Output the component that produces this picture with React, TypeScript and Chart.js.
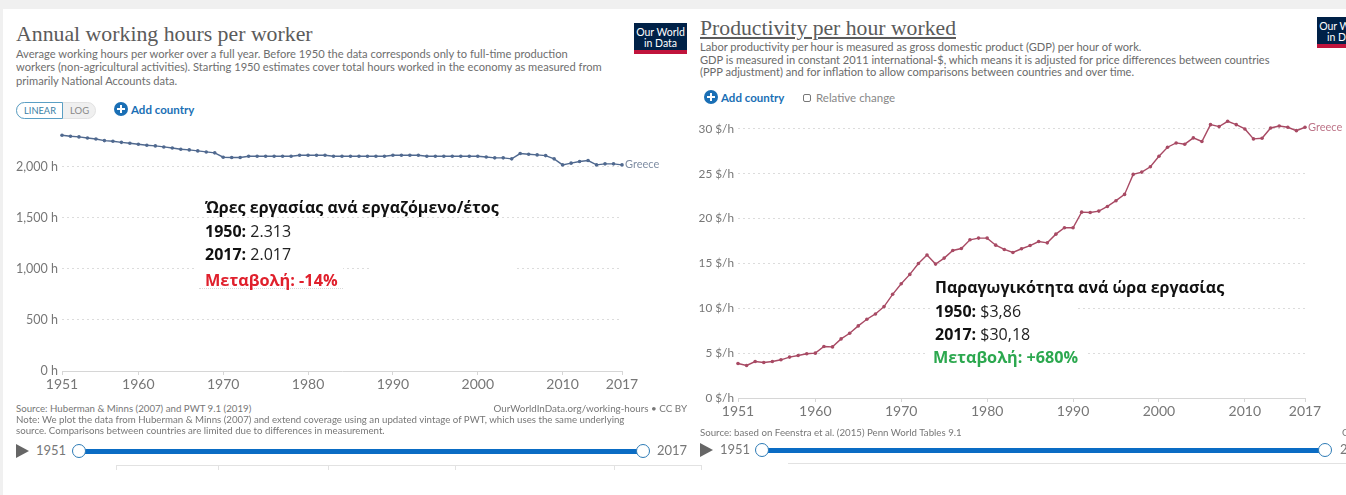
import React, { useEffect, useRef } from "react";
import { Chart, registerables } from "chart.js";

Chart.register(...registerables);

const years: number[] = [];
for (let y = 1951; y <= 2017; y++) years.push(y);

const hoursValues = [
  2309, 2299, 2293, 2283, 2273, 2257, 2250, 2240, 2231, 2221,
  2211, 2205, 2195, 2185, 2172, 2166, 2156, 2146, 2137, 2094,
  2091, 2091, 2104, 2104, 2104, 2104, 2104, 2104, 2114, 2114,
  2114, 2114, 2104, 2104, 2104, 2104, 2104, 2104, 2104, 2114,
  2114, 2114, 2114, 2104, 2104, 2104, 2104, 2104, 2104, 2104,
  2097, 2088, 2088, 2078, 2130, 2123, 2117, 2110, 2078, 2019,
  2036, 2052, 2062, 2019, 2029, 2029, 2019,
];

const productivityValues = [
  3.85, 3.63, 4.07, 3.96, 4.07, 4.26, 4.56, 4.74, 4.93, 5.0,
  5.74, 5.7, 6.59, 7.22, 8.04, 8.78, 9.37, 10.19, 11.56, 12.74,
  13.78, 15.0, 15.95, 14.93, 15.6, 16.45, 16.67, 17.64, 17.83, 17.83,
  17.04, 16.56, 16.23, 16.64, 17.0, 17.45, 17.3, 18.27, 18.98, 18.98,
  20.72, 20.69, 20.84, 21.36, 22.0, 22.7, 24.93, 25.19, 25.78, 26.96,
  27.96, 28.44, 28.3, 29.0, 28.6, 30.48, 30.26, 30.85, 30.48, 30.0,
  28.89, 28.96, 30.11, 30.33, 30.19, 29.81, 30.19,
];

const xTickValues = [1951, 1960, 1970, 1980, 1990, 2000, 2010, 2017];
const hoursTicks = [0, 500, 1000, 1500, 2000];
const productivityTicks = [0, 5, 10, 15, 20, 25, 30];
const seriesName = "Greece";

const FONT = "Lato, 'Open Sans', sans-serif";
const NOTE = "'Open Sans', 'Noto Sans', sans-serif";

type LineCfg = {
  left: number; top: number; width: number; plotW: number; plotH: number; axisH: number; plotLeft: number; ySize: number;
  values: number[]; yMax: number; yTicks: number[]; fmt: (v: number) => string; color: string; labelColor: string;
};

function LineChart(c: LineCfg) {
  const ref = useRef<HTMLCanvasElement>(null);
  useEffect(() => {
    const labelPlugin = {
      id: "endLabel",
      afterDatasetsDraw(chart: any) {
        const pts = chart.getDatasetMeta(0).data;
        const p = pts[pts.length - 1];
        const ctx = chart.ctx;
        ctx.save();
        ctx.font = `11px ${FONT}`;
        ctx.fillStyle = c.labelColor;
        ctx.textAlign = "left";
        ctx.textBaseline = "middle";
        ctx.fillText(seriesName, p.x + 3, p.y);
        ctx.restore();
      },
    };
    const chart = new Chart(ref.current!, {
      type: "line",
      data: {
        datasets: [{
          label: seriesName,
          data: years.map((x, i) => ({ x, y: c.values[i] })),
          borderColor: c.color,
          backgroundColor: c.color,
          borderWidth: 1.4,
          pointRadius: 1.8,
          pointBorderWidth: 0,
          tension: 0,
          clip: false as any,
        }],
      },
      options: {
        animation: false,
        responsive: false,
        devicePixelRatio: 1,
        layout: { autoPadding: false, padding: { left: 0, top: 0, right: c.width - (c.plotLeft - c.left) - c.plotW, bottom: 0 } },
        plugins: { legend: { display: false }, tooltip: { enabled: false }, title: { display: false } },
        scales: {
          x: {
            type: "linear",
            min: 1951,
            max: 2017,
            afterBuildTicks: (s: any) => { s.ticks = xTickValues.map((value) => ({ value })); },
            afterFit: (s: any) => { s.height = c.axisH; s.paddingLeft = 0; s.paddingRight = 0; },
            grid: { drawOnChartArea: false, drawTicks: true, tickLength: 4, color: "#d6d6d6" },
            border: { color: "#d6d6d6" },
            ticks: {
              autoSkip: false, maxRotation: 0, padding: 1, color: "#777",
              font: { family: FONT, size: 14 },
              callback: (v: any) => String(v),
            },
          },
          y: {
            min: 0,
            max: c.yMax,
            afterBuildTicks: (s: any) => { s.ticks = c.yTicks.map((value) => ({ value })); },
            afterFit: (s: any) => { s.width = c.plotLeft - c.left; s.paddingTop = 0; s.paddingBottom = 0; },
            grid: {
              drawTicks: false,
              color: (ctx: any) => (ctx.tick && ctx.tick.value === 0 ? "rgba(0,0,0,0)" : "#dcdcdc"),
            },
            border: { display: false, dash: [2, 3] },
            ticks: {
              padding: 4, color: "#777",
              font: { family: FONT, size: c.ySize },
              callback: (v: any) => c.fmt(Number(v)),
            },
          },
        },
      } as any,
      plugins: [labelPlugin],
    });
    return () => chart.destroy();
  }, []);
  return (
    <canvas
      ref={ref}
      width={c.width}
      height={c.plotH + c.axisH}
      style={{ position: "absolute", left: c.left, top: c.top, width: c.width, height: c.plotH + c.axisH }}
    />
  );
}

function T(p: { x: number; y: number; s: number; c?: string; b?: boolean; f?: string; ls?: number; right?: boolean; bg?: boolean; children: React.ReactNode; u?: boolean }) {
  const st: React.CSSProperties = {
    position: "absolute",
    top: p.y,
    transform: "translateY(-50%)",
    fontSize: p.s,
    color: p.c || "#777",
    fontWeight: p.b ? 700 : 400,
    fontFamily: p.f || FONT,
    letterSpacing: p.ls || 0,
    whiteSpace: "pre",
    lineHeight: 1.2,
    textDecoration: p.u ? "underline" : undefined,
    background: p.bg ? "#fff" : undefined,
  };
  if (p.right) st.right = 1346 - p.x; else st.left = p.x;
  return <div style={st}>{p.children}</div>;
}

function Box(p: { x: number; y: number; w: number; h: number; c: string; r?: any; extra?: React.CSSProperties }) {
  return <div style={{ position: "absolute", left: p.x, top: p.y, width: p.w, height: p.h, background: p.c, borderRadius: p.r, ...p.extra }} />;
}

function Logo({ x, y }: { x: number; y: number }) {
  return (
    <div style={{ position: "absolute", left: x, top: y, width: 53, height: 31, background: "#002147", color: "#fff", fontFamily: FONT, fontSize: 10.5, lineHeight: "11px", textAlign: "center", paddingTop: 4, boxSizing: "border-box", borderBottom: "4px solid #c0143c" }}>
      Our World<br />in Data
    </div>
  );
}

function Plus({ x, y }: { x: number; y: number }) {
  return (
    <div style={{ position: "absolute", left: x - 7, top: y - 7, width: 14, height: 14, borderRadius: 7, background: "#1a6fb5" }}>
      <div style={{ position: "absolute", left: 3, top: 6, width: 8, height: 2, background: "#fff" }} />
      <div style={{ position: "absolute", left: 6, top: 3, width: 2, height: 8, background: "#fff" }} />
    </div>
  );
}

function Slider({ triX, y, textX, h1, h2, endX }: { triX: number; y: number; textX: number; h1: number; h2: number; endX: number }) {
  const handle = (x: number) => (
    <div style={{ position: "absolute", left: x - 7, top: y - 7, width: 14, height: 14, borderRadius: 7, background: "#fff", border: "1px solid #2c7ab5", boxSizing: "border-box" }} />
  );
  return (
    <>
      <div style={{ position: "absolute", left: triX, top: y - 7, width: 0, height: 0, borderTop: "7px solid transparent", borderBottom: "7px solid transparent", borderLeft: "13px solid #666" }} />
      <T x={textX} y={y} s={13}>1951</T>
      <Box x={h1} y={y - 2} w={h2 - h1} h={5} c="#0a6cc4" />
      {handle(h1)}
      {handle(h2)}
      <T x={endX} y={y} s={13}>2017</T>
    </>
  );
}

export default function App() {
  return (
    <div style={{ position: "fixed", left: 0, top: 0, width: 1346, height: 495, overflow: "hidden", background: "#fff" }}>
      <Box x={0} y={0} w={1346} h={9} c="#f0f0f0" />
      <Box x={0} y={0} w={3} h={495} c="#f0f0f0" />

      <LineChart left={4} top={126} width={665} plotLeft={62} plotW={560} plotH={245} axisH={30} ySize={12.5}
        values={hoursValues} yMax={2400} yTicks={hoursTicks}
        fmt={(v) => v.toLocaleString("en-US") + " h"} color="#50698f" labelColor="#7f8da3" />
      <LineChart left={674} top={111} width={672} plotLeft={738} plotW={567} plotH={287} axisH={30} ySize={11.8}
        values={productivityValues} yMax={32} yTicks={productivityTicks}
        fmt={(v) => v + " $/h"} color="#a84a64" labelColor="#bd7488" />

      {/* left header */}
      <T x={16} y={34} s={21.8} c="#5b5b5b" f="'Liberation Serif', serif">Annual working hours per worker</T>
      <T x={16} y={53.5} s={11.15} c="#6e6e6e">Average working hours per worker over a full year. Before 1950 the data corresponds only to full-time production</T>
      <T x={16} y={67} s={11.15} c="#6e6e6e">workers (non-agricultural activities). Starting 1950 estimates cover total hours worked in the economy as measured from</T>
      <T x={16} y={80.5} s={11.15} c="#6e6e6e">primarily National Accounts data.</T>
      <Logo x={634} y={23} />
      <div style={{ position: "absolute", left: 16, top: 102, width: 80, height: 17, borderRadius: 9, background: "#f0f0f0", border: "1px solid #e2e2e2", boxSizing: "border-box" }} />
      <div style={{ position: "absolute", left: 16, top: 102, width: 47, height: 17, borderRadius: "9px 0 0 9px", background: "#fff", border: "1px solid #5a9fc4", boxSizing: "border-box" }} />
      <T x={24} y={110.5} s={9.3} c="#3c7fa6">LINEAR</T>
      <T x={70} y={110.5} s={9.5} c="#888">LOG</T>
      <Plus x={121} y={109} />
      <T x={131} y={110} s={11.5} b c="#1a6fb5">Add country</T>

      {/* left annotation */}
      <Box x={197} y={264} w={146} h={24} c="#fff" />
      <Box x={371} y={264} w={145} h={8} c="#fff" />
      <Box x={199} y={288} w={144} h={1} c="#fff" extra={{ borderTop: "1px dotted #d8d8d8" }} />
      <T x={205} y={208} s={16} b c="#111" f={NOTE}>Ώρες εργασίας ανά εργαζόμενο/έτος</T>
      <T x={205} y={232} s={16} c="#222" f={NOTE}><b style={{ color: "#111" }}>1950:</b> 2.313</T>
      <T x={205} y={255} s={16} c="#222" f={NOTE}><b style={{ color: "#111" }}>2017:</b> 2.017</T>
      <T x={205} y={281} s={16.3} b c="#e0202c" f={NOTE}>Μεταβολή: -14%</T>

      {/* left footer */}
      <T x={16} y={409} s={9.7}>Source: Huberman &amp; Minns (2007) and PWT 9.1 (2019)</T>
      <T x={687} y={409} s={9.8} right>OurWorldInData.org/working-hours • CC BY</T>
      <T x={16} y={420} s={9.7}>Note: We plot the data from Huberman &amp; Minns (2007) and extend coverage using an updated vintage of PWT, which uses the same underlying</T>
      <T x={16} y={431} s={9.7}>source. Comparisons between countries are limited due to differences in measurement.</T>
      <Slider triX={16} y={451} textX={36} h1={79} h2={643} endX={657} />
      <Box x={116} y={465} w={557} h={1} c="#e2e2e2" />
      {[116, 218, 328, 455, 614].map((x) => <Box key={x} x={x} y={465} w={1} h={5} c="#e2e2e2" />)}

      {/* right header */}
      <Box x={673} y={9} w={20} h={5} c="#fff" />
      <T x={700} y={28} s={21.7} c="#5b5b5b" f="'Liberation Serif', serif" u>Productivity per hour worked</T>
      <T x={700} y={47} s={11.1} c="#6a6a6a">Labor productivity per hour is measured as gross domestic product (GDP) per hour of work.</T>
      <T x={700} y={59.5} s={11.1} c="#6a6a6a">GDP is measured in constant 2011 international-$, which means it is adjusted for price differences between countries</T>
      <T x={700} y={72} s={11.1} c="#6a6a6a">(PPP adjustment) and for inflation to allow comparisons between countries and over time.</T>
      <Logo x={1317} y={17} />
      <Plus x={711} y={97} />
      <T x={721} y={98} s={11.5} b c="#1a6fb5">Add country</T>
      <div style={{ position: "absolute", left: 803, top: 94, width: 8, height: 8, border: "1px solid #777", borderRadius: 2, boxSizing: "border-box" }} />
      <T x={816} y={98} s={11.5} c="#888">Relative change</T>

      {/* right annotation */}
      <Box x={925} y={345} w={160} h={24} c="#fff" />
      <Box x={930} y={302} w={147} h={20} c="#fff" />
      <T x={935} y={288} s={16} b c="#111" f={NOTE}>Παραγωγικότητα ανά ώρα εργασίας</T>
      <T x={935} y={312} s={16} c="#222" f={NOTE}><b style={{ color: "#111" }}>1950:</b> $3,86</T>
      <T x={935} y={335} s={16} c="#222" f={NOTE}><b style={{ color: "#111" }}>2017:</b> $30,18</T>
      <T x={933} y={358} s={16.2} b c="#2ca84f" f={NOTE}>Μεταβολή: +680%</T>

      {/* right footer */}
      <T x={700} y={432.5} s={9.7}>Source: based on Feenstra et al. (2015) Penn World Tables 9.1</T>
      <T x={1342} y={432.5} s={9.7}>OurWorldInData.org</T>
      <Slider triX={700} y={450} textX={720} h1={762} h2={1325} endX={1340} />
      <Box x={788} y={463} w={558} h={1} c="#e2e2e2" />
      <Box x={673} y={465} w={28} h={1} c="#e2e2e2" />
      <Box x={701} y={465} w={1} h={5} c="#e2e2e2" />
    </div>
  );
}
